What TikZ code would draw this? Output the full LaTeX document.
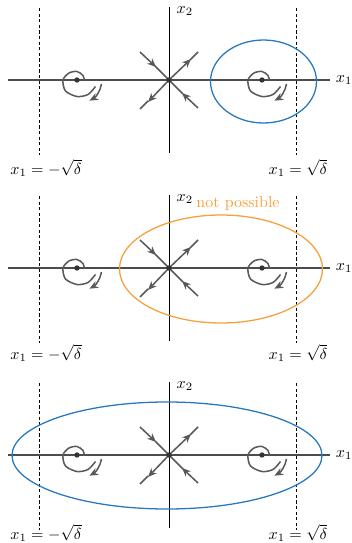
\documentclass[tikz,border=0pt]{standalone}
\usepackage{amssymb}
\usetikzlibrary{arrows.meta,calc}
\definecolor{ellblue}{RGB}{40,120,190}
\definecolor{ellorange}{RGB}{245,160,60}

\begin{document}
\begin{tikzpicture}[x=0.022cm,y=0.022cm,>={Stealth[length=5.5pt,width=4.6pt]}, line width=0.8pt]
    \tikzstyle{traj} = [draw=black!65, line width=0.95pt]
    \tikzstyle{bound} = [draw=black, line width=0.5pt, dash pattern=on 2pt off 1.5pt]
    \tikzstyle{region} = [line width=0.8pt]
    \tikzset{focuspic/.pic={
        % spiral + direction arrow (clockwise)
        \draw[traj] plot[smooth] coordinates {(7.5,-1) (6,4.5) (0,8.5) (-8,7) (-14,0) (-11.5,-11) (0,-16.5) (11,-14.5) (18.5,-6.5)};
        \draw[traj,->] (24.5,-4) arc[start angle=-10, end angle=-62, radius=23.5];
        \fill[black!80] (0,0) circle (2.7);
    }}

    \useasboundingbox (0,0) rectangle (352,543);

    % Ortak faz portresi (uc panel)
    \foreach \py/\ly in {463/-88, 275/-85, 88/-78} {
        \begin{scope}[shift={(169,\py)}]
            % Eksenler
            \coordinate (west) at (-161,0);
            \coordinate (east) at (161,0);
            \coordinate (south) at (0,-73);
            \coordinate (north) at (0,73);
            \draw[black!70] (west) -- (east) node[right, black] {$x_1$};
            \draw[line width=0.6pt] (south) -- (north);
            \node[anchor=north west, inner sep=0pt] at (7,74) {$x_2$};

            % Sinirlar
            \draw[bound] (-130,72) -- (-130,-75);
            \draw[bound] (127,72) -- (127,-75);
            \node at (-123,\ly) {$x_1 = -\sqrt{\delta}$};
            \node at (129,\ly) {$x_1 = \sqrt{\delta}$};

            % Eyer noktasi
            \draw[traj,->] (-29,28) -- (-13,13);
            \draw[traj] (-14,14) -- (0,0);
            \draw[traj,->] (29,-28) -- (13,-13);
            \draw[traj] (14,-14) -- (0,0);
            \draw[traj,->] (0,0) -- (22,21);
            \draw[traj] (21,20) -- (29,28);
            \draw[traj,->] (0,0) -- (-21,-22);
            \draw[traj] (-21,-21) -- (-29,-29);
            \fill[black!80] (0,0) circle (2.7);

            % Odak noktalari
            \pic at (-92,0) {focuspic};
            \pic at (93,0) {focuspic};
        \end{scope}
    }

    % Bolgeler
    \coordinate (O1) at (169,463);
    \coordinate (O2) at (169,275);
    \coordinate (O3) at (169,88);
    \draw[region, ellblue] (O1) ++(94.5,-1.5) ellipse [x radius=53, y radius=41.5];
    \draw[region, ellorange] (O2) ++(52,-1) ellipse [x radius=101.5, y radius=54];
    \node[ellorange] at ($(O2)+(69,64)$) {not possible};
    \draw[region, ellblue] (O3) ++(-2,-0.5) ellipse [x radius=155, y radius=53.5];
\end{tikzpicture}
\end{document}
